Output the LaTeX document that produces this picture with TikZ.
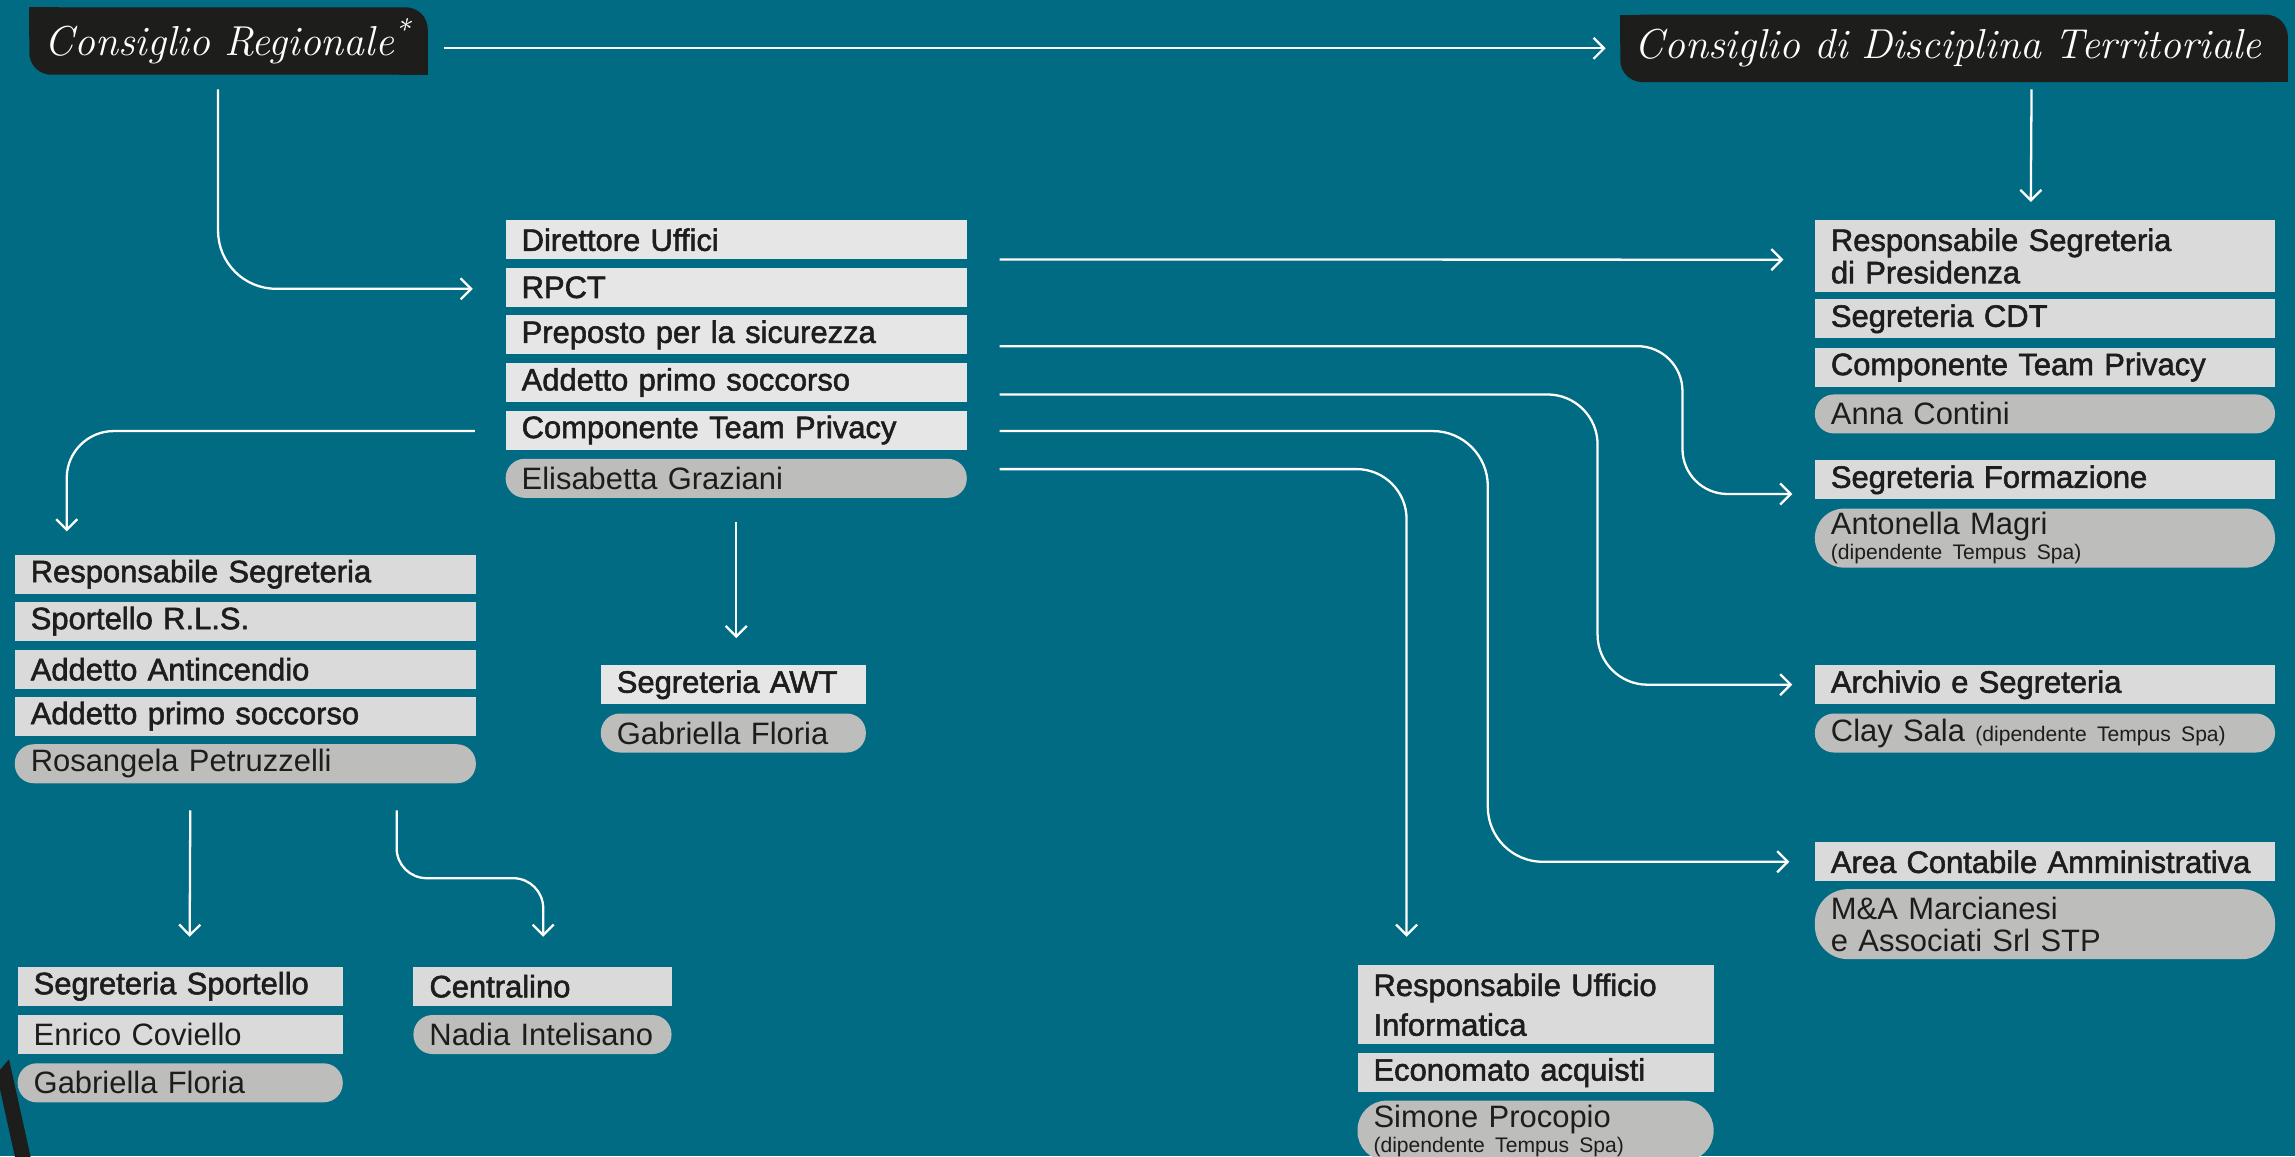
\documentclass[tikz,border=0pt]{standalone}
\usepackage{fontspec}
\newfontfamily\rolefont[FakeBold=1.8]{Liberation Sans}
\newfontfamily\namefont{Liberation Sans}
\usetikzlibrary{arrows.meta,backgrounds,calc}

\definecolor{bgteal}{HTML}{006B82}
\definecolor{hdrdark}{HTML}{1D1D1B}
\definecolor{boxlight}{HTML}{E6E6E6}
\definecolor{boxgray}{HTML}{DADADA}
\definecolor{pillgray}{HTML}{BDBDBB}
\definecolor{txtdark}{HTML}{1D1D1B}

\newcommand\tempusnote{{\fontsize{6}{7}\selectfont(dipendente Tempus Spa)}}

\tikzset{
  arr/.style={draw=white, line width=0.65pt, -{Straight Barb[length=3pt,width=6pt]}},
  hdr/.style={anchor=north west, minimum height=0.66cm, inner xsep=0pt, inner ysep=0pt,
    align=left, text=white, font=\itshape\addfontfeature{FakeBold=0.7}\fontsize{11.9}{13}\selectfont},
  role/.style={anchor=north west, fill=boxgray, minimum height=0.39cm, inner xsep=0.16cm,
    inner ysep=0pt, align=left, text=txtdark, font=\rolefont\fontsize{8.8}{10.5}\selectfont},
  person/.style={role, fill=pillgray, rounded corners=0.19cm, font=\namefont\fontsize{8.8}{10.5}\selectfont},
  plainperson/.style={role, font=\namefont\fontsize{8.8}{10.5}\selectfont},
  wmid/.style={text width=4.29cm},
  wright/.style={text width=4.28cm},
  wleft/.style={text width=4.29cm},
  wawt/.style={text width=2.33cm},
  wsport/.style={text width=2.93cm},
  wcentr/.style={text width=2.26cm},
  winfo/.style={text width=3.24cm}
}

\begin{document}
\begin{tikzpicture}[x=0.014637cm, y=-0.014637cm]
\useasboundingbox (0,0) rectangle (1568,790);
\begin{scope}[on background layer]
  \fill[bgteal] (0,0) rectangle (1568,790);
\end{scope}
\clip (0,0) rectangle (1568,790);

% headers
\node[hdr, text width=3.97cm] (cr) at (20,5) {\hspace*{0.15cm}Consiglio~Regionale\textsuperscript{*}};
\node[hdr, text width=6.66cm] (cdt) at (1107,10) {\hspace*{0.14cm}Consiglio~di~Disciplina~Territoriale};
\begin{scope}[on background layer]
  \foreach \h in {cr,cdt}{
    \fill[hdrdark, rounded corners=0.22cm] (\h.south west) rectangle (\h.north east);
    \fill[hdrdark] (\h.north west) rectangle ($(\h.north west)+(20,20)$);
    \fill[hdrdark] (\h.south east) rectangle ($(\h.south east)+(-20,-20)$);
  }
\end{scope}

% middle column
\node[role, fill=boxlight, wmid] (dir) at (345,150) {Direttore Uffici};
\node[role, fill=boxlight, wmid] (rpct) at (345,182.5) {RPCT};
\node[role, fill=boxlight, wmid] (prep) at (345,215) {Preposto per la sicurezza};
\node[role, fill=boxlight, wmid] (add) at (345,247.5) {Addetto primo soccorso};
\node[role, fill=boxlight, wmid] (comp) at (345,280) {Componente Team Privacy};
\node[person, wmid] (elis) at (345,313) {Elisabetta Graziani};

% right column
\node[role, wright, minimum height=0.715cm, font=\rolefont\fontsize{8.8}{9.2}\selectfont] (presid) at (1239.5,150) {Responsabile Segreteria\\di Presidenza};
\node[role, wright] (segcdt) at (1239.5,204) {Segreteria CDT};
\node[role, wright] (ctp) at (1239.5,237) {Componente Team Privacy};
\node[person, wright] (anna) at (1239.5,269) {Anna Contini};
\node[role, wright] (form) at (1239.5,314) {Segreteria Formazione};
\node[person, wright, minimum height=0.59cm, rounded corners=0.29cm] (magri) at (1239.5,347) {Antonella Magri\\[-3.4pt]\tempusnote};
\node[role, wright] (arch) at (1239.5,454) {Archivio e Segreteria};
\node[person, wright] (clay) at (1239.5,487) {Clay Sala \tempusnote};
\node[role, wright] (area) at (1239.5,575) {Area Contabile Amministrativa};
\node[person, wright, minimum height=0.70cm, rounded corners=0.33cm, font=\namefont\fontsize{8.8}{9.2}\selectfont] (mna) at (1239.5,607) {M\&A Marcianesi\\e Associati Srl STP};

% left column
\node[role, wleft] (resp) at (9.6,378.5) {Responsabile Segreteria};
\node[role, wleft] (rls) at (9.6,410.6) {Sportello R.L.S.};
\node[role, wleft] (anti) at (9.6,443.4) {Addetto Antincendio};
\node[role, wleft] (aps) at (9.6,475.5) {Addetto primo soccorso};
\node[person, wleft] (rosa) at (9.6,508) {Rosangela Petruzzelli};

% AWT
\node[role, fill=boxlight, wawt] (awt) at (410,454) {Segreteria AWT};
\node[person, wawt] (floria) at (410,487) {Gabriella Floria};

% bottom left
\node[role, wsport] (ssport) at (11.6,660) {Segreteria Sportello};
\node[plainperson, wsport] (enrico) at (11.6,693) {Enrico Coviello};
\node[person, wsport] (floriab) at (11.6,726) {Gabriella Floria};
\node[role, wcentr] (centr) at (282,660) {Centralino};
\node[person, wcentr] (nadia) at (282,693) {Nadia Intelisano};

% informatica
\node[role, winfo, minimum height=0.79cm, font=\rolefont\fontsize{8.8}{11.3}\selectfont] (info) at (927,659) {Responsabile Ufficio\\Informatica};
\node[role, winfo] (econ) at (927,719) {Economato acquisti};
\node[person, winfo, minimum height=0.60cm, rounded corners=0.29cm] (simone) at (927,751.5) {Simone Procopio\\[-3.4pt]\tempusnote};

% connectors
\draw[arr] ($(cr.east |- cdt.west)+(11,0)$) -- ($(cdt.west)+(-10,0)$);
\draw[arr, rounded corners=0.58cm] ($(cr.south west)+(129,10)$) |- ($(rpct.west)+(-22,1)$);
\draw[arr] ($(cdt.south west)+(281,5)$) -- ($(presid.north west)+(148,-12)$);
\draw[arr] ($(dir.east)+(22,13.5)$) -- ($(presid.west)+(-21,2.5)$);
\draw[arr, rounded corners=0.45cm] ($(prep.east)+(22,7.7)$) -| ($(form.west)+(-90,9.7)$) -- ($(form.west)+(-15,9.7)$);
\draw[arr, rounded corners=0.5cm] ($(add.east)+(22,8.2)$) -| ($(arch.west)+(-148,0)$) -- ($(arch.west)+(-15,0)$);
\draw[arr, rounded corners=0.55cm] ($(comp.east)+(22,0.7)$) -| ($(area.west)+(-223,0)$) -- ($(area.west)+(-17,0)$);
\draw[arr, rounded corners=0.5cm] ($(elis.east)+(22,-6.3)$) -| ($(info.north west)+(34,-19)$);
\draw[arr, rounded corners=0.47cm] ($(comp.west)+(-20.5,0.7)$) -| ($(resp.north west)+(36,-15.5)$);
\draw[arr] ($(elis.south)+(0,16)$) -- ($(elis.south |- awt.north)+(0,-18)$);
\draw[arr] ($(rosa.south west)+(120.4,18)$) -- ($(ssport.north west)+(118,-20)$);
\draw[arr, rounded corners=0.3cm] ($(rosa.south west)+(261.4,18)$) |- ($(centr.north)+(0.5,-60)$) -- ($(centr.north)+(0.5,-20)$);

% black stroke, bottom left
\fill[hdrdark] (6.15,723.7) -- (20.95,790.5) -- (10.25,790.5) -- (0,744.2) -- (0,731) -- cycle;
\end{tikzpicture}
\end{document}
